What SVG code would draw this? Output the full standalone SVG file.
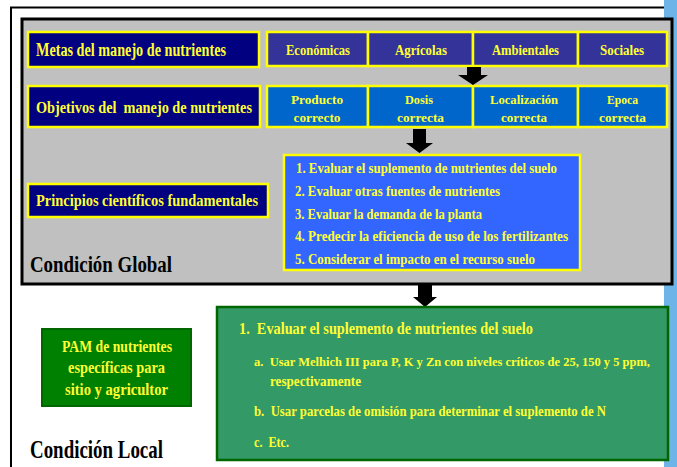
<svg xmlns="http://www.w3.org/2000/svg" width="677" height="467" viewBox="0 0 677 467">
<style>
.t{font-family:"Liberation Serif","DejaVu Serif",serif;font-weight:bold;fill:#FFFF33}
.k{font-family:"Liberation Serif","DejaVu Serif",serif;font-weight:bold;fill:#000}
.yb{stroke:#FFFF00;stroke-width:2.5}
.nav{fill:#000080}
.pur{fill:#333399}
.blu{fill:#0066CC}
.arr{fill:#000}
</style>
<rect x="0" y="0" width="677" height="467" fill="#fff"/>
<rect x="664" y="0" width="13" height="467" fill="#6DB5E8"/>
<path d="M11,467 V7.5 H664" fill="none" stroke="#000" stroke-width="2"/>
<g id="global">
<rect x="22" y="19" width="650" height="265" fill="#C0C0C0" stroke="#000" stroke-width="3"/>
<text class="k" x="30" y="272" font-size="23" textLength="142" lengthAdjust="spacingAndGlyphs">Condición Global</text>
</g>
<g id="metas">
<rect class="nav yb" x="28" y="32" width="231" height="35"/>
<text class="t" x="36" y="56" font-size="18" textLength="190" lengthAdjust="spacingAndGlyphs">Metas del manejo de nutrientes</text>
</g>
<g id="metas-row">
<rect class="pur yb" x="267" y="32" width="101" height="34"/>
<rect class="pur yb" x="368" y="32" width="105" height="34"/>
<rect class="pur yb" x="473" y="32" width="105" height="34"/>
<rect class="pur yb" x="578" y="32" width="89" height="34"/>
<g font-size="14" text-anchor="middle">
<text class="t" x="318" y="55" textLength="64" lengthAdjust="spacingAndGlyphs">Económicas</text>
<text class="t" x="421" y="55" textLength="52" lengthAdjust="spacingAndGlyphs">Agrícolas</text>
<text class="t" x="525.5" y="55" textLength="67" lengthAdjust="spacingAndGlyphs">Ambientales</text>
<text class="t" x="622" y="55" textLength="44" lengthAdjust="spacingAndGlyphs">Sociales</text>
</g>
</g>
<g id="objetivos">
<rect class="nav yb" x="28" y="86" width="232" height="41"/>
<text class="t" x="36" y="113" font-size="16" xml:space="preserve" textLength="216" lengthAdjust="spacingAndGlyphs">Objetivos del  manejo de nutrientes</text>
</g>
<g id="objetivos-row">
<rect class="blu yb" x="267" y="86" width="101" height="41"/>
<rect class="blu yb" x="368" y="86" width="105" height="41"/>
<rect class="blu yb" x="473" y="86" width="105" height="41"/>
<rect class="blu yb" x="578" y="86" width="89" height="41"/>
<g font-size="13.5" text-anchor="middle">
<text class="t" x="317" y="103.5" textLength="52" lengthAdjust="spacingAndGlyphs">Producto</text>
<text class="t" x="317" y="121.5" textLength="47" lengthAdjust="spacingAndGlyphs">correcto</text>
<text class="t" x="419" y="103.5" textLength="28" lengthAdjust="spacingAndGlyphs">Dosis</text>
<text class="t" x="420.5" y="121.5" textLength="47" lengthAdjust="spacingAndGlyphs">correcta</text>
<text class="t" x="524" y="103.5" textLength="68" lengthAdjust="spacingAndGlyphs">Localización</text>
<text class="t" x="524" y="121.5" textLength="46" lengthAdjust="spacingAndGlyphs">correcta</text>
<text class="t" x="622.5" y="103.5" textLength="31" lengthAdjust="spacingAndGlyphs">Epoca</text>
<text class="t" x="622.5" y="121.5" textLength="47" lengthAdjust="spacingAndGlyphs">correcta</text>
</g>
</g>
<g id="principios">
<rect class="nav yb" x="28" y="184" width="240" height="33"/>
<text class="t" x="36" y="206" font-size="17" textLength="222" lengthAdjust="spacingAndGlyphs">Principios científicos fundamentales</text>
</g>
<g id="lista">
<rect x="284" y="155" width="296" height="115" fill="#3366FF" class="yb"/>
<g font-size="15">
<text class="t" x="296" y="173" textLength="261" lengthAdjust="spacingAndGlyphs">1. Evaluar el suplemento de nutrientes del suelo</text>
<text class="t" x="295" y="196" textLength="205" lengthAdjust="spacingAndGlyphs">2. Evaluar otras fuentes de nutrientes</text>
<text class="t" x="295" y="218.5" textLength="187" lengthAdjust="spacingAndGlyphs">3. Evaluar la demanda de la planta</text>
<text class="t" x="295" y="241" textLength="273" lengthAdjust="spacingAndGlyphs">4. Predecir la eficiencia de uso de los fertilizantes</text>
<text class="t" x="295" y="263.5" textLength="240" lengthAdjust="spacingAndGlyphs">5. Considerar el impacto en el recurso suelo</text>
</g>
</g>
<g id="connectors">
<polygon class="arr" points="467,67 481,67 481,75 488,75 473,85 458,75 467,75"/>
<polygon class="arr" points="413,129 426,129 426,143 433,143 419.5,153 406,143 413,143"/>
<polygon class="arr" points="418,285 432,285 432,297 437,297 425,307 413,297 418,297"/>
</g>
<g id="pam">
<rect x="42" y="329" width="149" height="77" fill="#008000" stroke="#006600" stroke-width="2"/>
<g font-size="17" text-anchor="middle">
<text class="t" x="117" y="352" textLength="110" lengthAdjust="spacingAndGlyphs">PAM de nutrientes</text>
<text class="t" x="116.5" y="373" textLength="97" lengthAdjust="spacingAndGlyphs">específicas para</text>
<text class="t" x="116.5" y="395" textLength="103" lengthAdjust="spacingAndGlyphs">sitio y agricultor</text>
</g>
</g>
<g id="local">
<rect x="217" y="307" width="451" height="153" fill="#339966" stroke="#006600" stroke-width="2.5"/>
<text class="t" x="239" y="334" font-size="16.5" xml:space="preserve" textLength="294" lengthAdjust="spacingAndGlyphs">1.  Evaluar el suplemento de nutrientes del suelo</text>
<g font-size="14">
<text class="t" x="254" y="366" font-size="12" xml:space="preserve" textLength="396" lengthAdjust="spacingAndGlyphs">a.  Usar Melhich III para P, K y Zn con niveles críticos de 25, 150 y 5 ppm,</text>
<text class="t" x="270" y="386" textLength="91" lengthAdjust="spacingAndGlyphs">respectivamente</text>
<text class="t" x="254" y="416" xml:space="preserve" textLength="352" lengthAdjust="spacingAndGlyphs">b.  Usar parcelas de omisión para determinar el suplemento de N</text>
<text class="t" x="254" y="447" xml:space="preserve" textLength="35" lengthAdjust="spacingAndGlyphs">c.  Etc.</text>
</g>
</g>
<text class="k" x="30" y="458" font-size="25" textLength="133" lengthAdjust="spacingAndGlyphs">Condición Local</text>
</svg>
